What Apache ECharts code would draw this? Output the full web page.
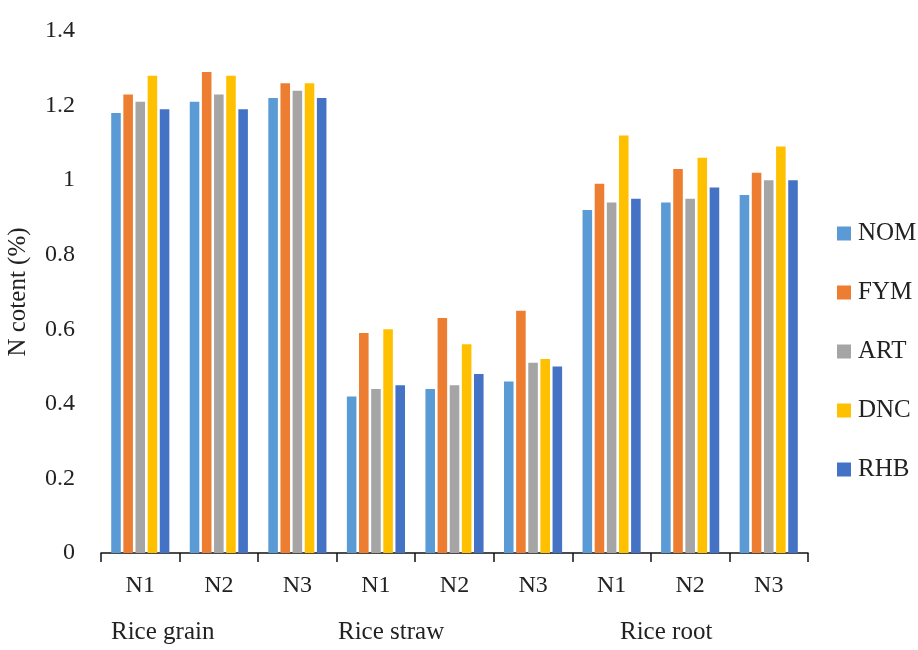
<!DOCTYPE html>
<html>
<head>
<meta charset="utf-8">
<script src="https://cdn.jsdelivr.net/npm/echarts@6/dist/echarts.min.js"></script>
<style>
  html, body { margin: 0; padding: 0; background: #fff; }
  #chart { width: 918px; height: 650px; }
</style>
</head>
<body>
<div id="chart"></div>
<script>
// categories: N level within each plant part
var categories = ["N1", "N2", "N3", "N1", "N2", "N3", "N1", "N2", "N3"];
var groups = ["Rice grain", "Rice straw", "Rice root"];
var yTicks = [0, 0.2, 0.4, 0.6, 0.8, 1, 1.2, 1.4];

// N content (%) per treatment
var NOM = [1.18, 1.21, 1.22, 0.42, 0.44, 0.46, 0.92, 0.94, 0.96];
var FYM = [1.23, 1.29, 1.26, 0.59, 0.63, 0.65, 0.99, 1.03, 1.02];
var ART = [1.21, 1.23, 1.24, 0.44, 0.45, 0.51, 0.94, 0.95, 1.00];
var DNC = [1.28, 1.28, 1.26, 0.60, 0.56, 0.52, 1.12, 1.06, 1.09];
var RHB = [1.19, 1.19, 1.22, 0.45, 0.48, 0.50, 0.95, 0.98, 1.00];

var seriesNames = ["NOM", "FYM", "ART", "DNC", "RHB"];
var seriesData = [NOM, FYM, ART, DNC, RHB];
var colors = ["#5B9BD5", "#ED7D31", "#A5A5A5", "#FFC000", "#4472C4"];

var font = "Liberation Serif";

var chart = echarts.init(document.getElementById("chart"));
chart.setOption({
  animation: false,
  color: colors,
  textStyle: { fontFamily: font },
  grid: { left: 101, right: 110, top: 31, bottom: 97, containLabel: false, outerBoundsMode: "none" },
  legend: {
    orient: "vertical",
    left: 832,
    top: 216,
    itemWidth: 14,
    itemHeight: 14,
    itemGap: 34,
    icon: "rect",
    textStyle: { fontFamily: font, fontSize: 25, color: "#222", padding: [0, 0, 0, 2] },
    data: seriesNames
  },
  xAxis: {
    type: "category",
    data: categories,
    axisLine: { lineStyle: { color: "#111", width: 1.5 } },
    axisTick: { show: true, length: 9, interval: 0, lineStyle: { color: "#111", width: 1.5 } },
    axisLabel: { fontFamily: font, fontSize: 24, color: "#222", margin: 21 }
  },
  yAxis: {
    type: "value",
    min: 0,
    max: 1.4,
    interval: 0.2,
    name: "N cotent (%)",
    nameLocation: "middle",
    nameGap: 70,
    nameTextStyle: { fontFamily: font, fontSize: 25, color: "#222" },
    axisLine: { show: false },
    axisTick: { show: false },
    splitLine: { show: false },
    axisLabel: {
      fontFamily: font, fontSize: 24, color: "#222", margin: 26,
      formatter: function (v) {
        var t = yTicks.find(function (k) { return Math.abs(k - v) < 1e-9; });
        return t === undefined ? "" : String(t);
      }
    }
  },
  graphic: [
    { type: "text", left: 111, top: 620, style: { text: groups[0], font: "25px " + font, fill: "#222" } },
    { type: "text", left: 338, top: 620, style: { text: groups[1], font: "25px " + font, fill: "#222" } },
    { type: "text", left: 620, top: 620, style: { text: groups[2], font: "25px " + font, fill: "#222" } }
  ],
  series: seriesNames.map(function (n, i) {
    return {
      name: n,
      type: "bar",
      data: seriesData[i],
      barGap: "27%",
      barCategoryGap: "26%"
    };
  })
});
</script>
</body>
</html>
